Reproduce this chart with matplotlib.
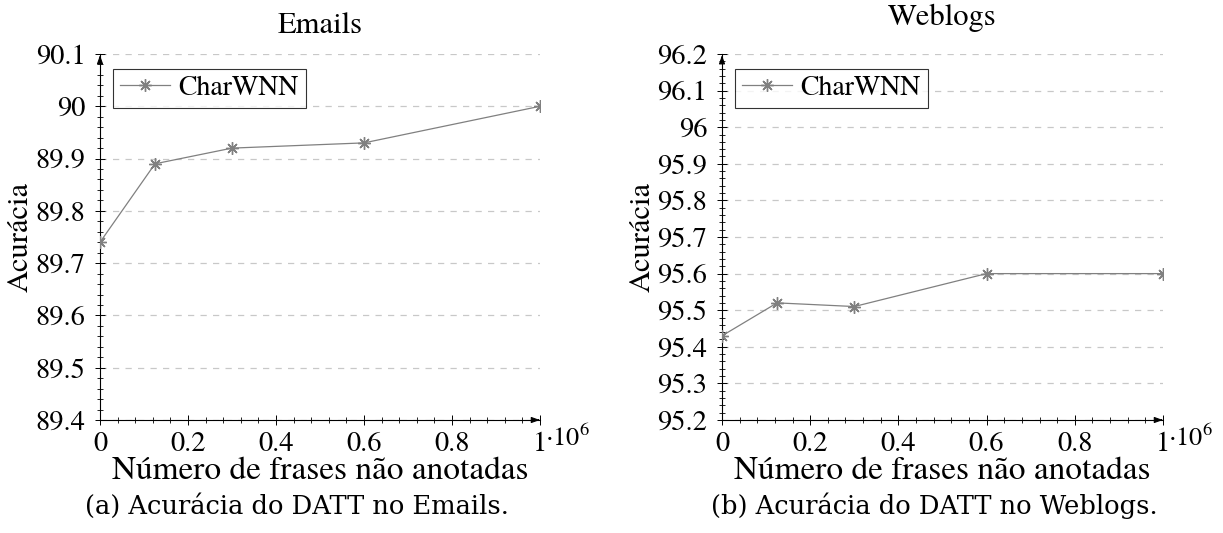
import matplotlib
matplotlib.use('Agg')
import matplotlib.pyplot as plt
from matplotlib.ticker import MultipleLocator, AutoMinorLocator, FuncFormatter

# dados
frases = [0, 0.125e6, 0.3e6, 0.6e6, 1e6]
emails_acc = [89.74, 89.89, 89.92, 89.93, 90.0]
weblogs_acc = [95.43, 95.52, 95.51, 95.60, 95.60]
serie = 'CharWNN'

plt.rcParams['font.family'] = ['TeX Gyre Termes', 'Liberation Serif', 'DejaVu Serif']
plt.rcParams['mathtext.fontset'] = 'stix'

W, H = 1223, 533
fig = plt.figure(figsize=(W / 100, H / 100), dpi=100)


def fmt_y(v, pos):
    s = f'{v:.1f}'
    return s[:-2] if s.endswith('.0') else s


def fmt_x(v, pos):
    s = f'{v / 1e6:.1f}'
    return s[:-2] if s.endswith('.0') else s


def painel(rect, y, ylim, titulo, tpad, caption, capx):
    ax = fig.add_axes(rect)
    ax.plot(frases, y, color='#808080', lw=0.9, marker=(8, 2, 0), ms=9,
            mew=1.0, label=serie, zorder=3)
    ax.set_xlim(0, 1e6)
    ax.set_ylim(*ylim)
    ax.xaxis.set_major_locator(MultipleLocator(0.2e6))
    ax.xaxis.set_minor_locator(AutoMinorLocator(5))
    ax.yaxis.set_major_locator(MultipleLocator(0.1))
    ax.yaxis.set_minor_locator(AutoMinorLocator(5))
    ax.xaxis.set_major_formatter(FuncFormatter(fmt_x))
    ax.yaxis.set_major_formatter(FuncFormatter(fmt_y))
    ax.tick_params(which='major', direction='inout', length=7, width=0.7,
                   labelsize=20.5)
    ax.tick_params(which='minor', direction='inout', length=4, width=0.6)
    ax.tick_params(axis='y', which='major', pad=7)
    ax.tick_params(axis='x', which='major', pad=5)
    for s in ('top', 'right'):
        ax.spines[s].set_visible(False)
    for s in ('left', 'bottom'):
        ax.spines[s].set_linewidth(0.8)
    ax.grid(axis='y', color='#c8c8c8', ls=(0, (5, 5)), lw=0.9)
    ax.set_axisbelow(True)
    # setas nos eixos
    ax.annotate('', xy=(1.006, 0), xytext=(0.99, 0), xycoords='axes fraction',
                arrowprops=dict(arrowstyle='-|>,head_length=0.5,head_width=0.18',
                                lw=0.8, color='black'))
    ax.annotate('', xy=(0, 1.004), xytext=(0, 0.98), xycoords='axes fraction',
                arrowprops=dict(arrowstyle='-|>,head_length=0.5,head_width=0.18',
                                lw=0.8, color='black'))
    ax.text(1.011, -0.072, r'$\cdot 10^{6}$', transform=ax.transAxes,
            fontsize=19, ha='left', va='baseline')
    ax.set_title(titulo, fontsize=22, pad=tpad)
    ax.set_xlabel('Número de frases não anotadas', fontsize=24, labelpad=0)
    ax.set_ylabel('Acurácia', fontsize=22, labelpad=1)
    leg = ax.legend(loc='upper left', bbox_to_anchor=(0.03, 0.96), fontsize=20,
                    frameon=True, fancybox=False, edgecolor='black',
                    handlelength=1.8, handletextpad=0.3, borderpad=0.25,
                    borderaxespad=0)
    leg.get_frame().set_linewidth(0.8)
    fig.text(capx / W, 1 - 506 / H, caption, ha='center', va='center',
             fontsize=18.5, family='DejaVu Serif')
    return ax


painel([100 / W, 1 - 420 / H, 440 / W, 366 / H], emails_acc, (89.4, 90.1),
       'Emails', 15, '(a) Acurácia do DATT no Emails.', 297)
painel([722 / W, 1 - 420 / H, 441 / W, 366 / H], weblogs_acc, (95.2, 96.2),
       'Weblogs', 21, '(b) Acurácia do DATT no Weblogs.', 934)

fig.savefig('out.png', dpi=100)
